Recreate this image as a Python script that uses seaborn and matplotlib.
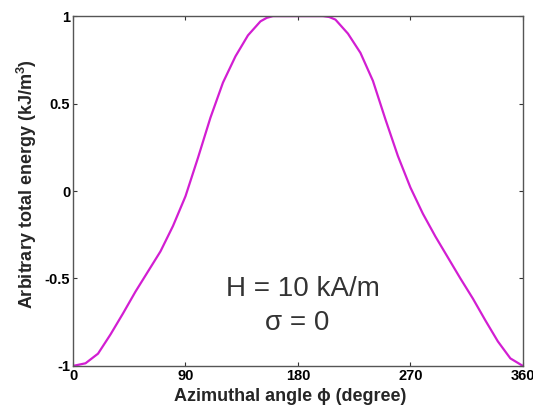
import numpy as np
import pandas as pd
import matplotlib
matplotlib.use('Agg')
import matplotlib.pyplot as plt
import seaborn as sns

# Data (azimuthal angle in degrees, energy normalised)
phi_deg = [0, 10, 20, 30, 40, 50, 60, 70, 80, 90,
           100, 110, 120, 130, 140, 150, 155, 160, 170, 180,
           190, 200, 205, 210, 220, 230, 240, 250, 260, 270,
           280, 290, 300, 310, 320, 330, 340, 350, 360]
energy = [-1.0, -0.985, -0.93, -0.82, -0.70, -0.575, -0.46, -0.345, -0.20, -0.03,
          0.19, 0.42, 0.62, 0.77, 0.89, 0.97, 0.99, 1.0, 1.0, 1.0,
          1.0, 1.0, 0.995, 0.98, 0.90, 0.79, 0.63, 0.41, 0.20, 0.02,
          -0.13, -0.26, -0.38, -0.50, -0.615, -0.74, -0.86, -0.957, -1.0]

x_ticks = [0, 90, 180, 270, 360]
y_ticks = [-1, -0.5, 0, 0.5, 1]
y_ticklabels = ['-1', '-0.5', '0', '0.5', '1']

df = pd.DataFrame({'phi': phi_deg, 'E': energy})

sns.set_style('ticks')
plt.rcParams['font.family'] = ['Liberation Sans', 'DejaVu Sans']
plt.rcParams['mathtext.fontset'] = 'custom'
plt.rcParams['mathtext.rm'] = 'Liberation Sans'
plt.rcParams['mathtext.bf'] = 'Liberation Sans:bold'

fig = plt.figure(figsize=(5.33, 4.13), dpi=100)
ax = fig.add_axes([0.137, 0.114, 0.844, 0.847])

sns.lineplot(data=df, x='phi', y='E', color='#d21ed2', linewidth=1.6, ax=ax)

ax.set_xlim(0, 360)
ax.set_ylim(-1, 1)
ax.set_xticks(x_ticks)
ax.set_yticks(y_ticks)
ax.set_yticklabels(y_ticklabels)
ax.tick_params(direction='in', length=3, width=0.8, labelsize=10.5, pad=2,
               top=True, right=True, colors='#333333', labelcolor='black')
for t in ax.get_xticklabels() + ax.get_yticklabels():
    t.set_fontweight('bold')
for s in ax.spines.values():
    s.set_color('#555555')
    s.set_linewidth(1.0)

ax.set_xlabel('Azimuthal angle \u03d5 (degree)', fontsize=13, fontweight='bold', labelpad=4)
ax.set_ylabel(r'Arbitrary total energy (kJ/m$^{\mathbf{3}}$)', fontsize=13, fontweight='bold', labelpad=4)
ax.xaxis.label.set_x(0.483)
ax.yaxis.label.set_y(0.52)

ax.text(0.51, 0.219, 'H = 10 kA/m', transform=ax.transAxes, ha='center', va='center',
        fontsize=20, color='#333333')
ax.text(0.499, 0.122, '\u03c3 = 0', transform=ax.transAxes, ha='center', va='center',
        fontsize=20, color='#333333')

fig.savefig('out.png', dpi=100)
